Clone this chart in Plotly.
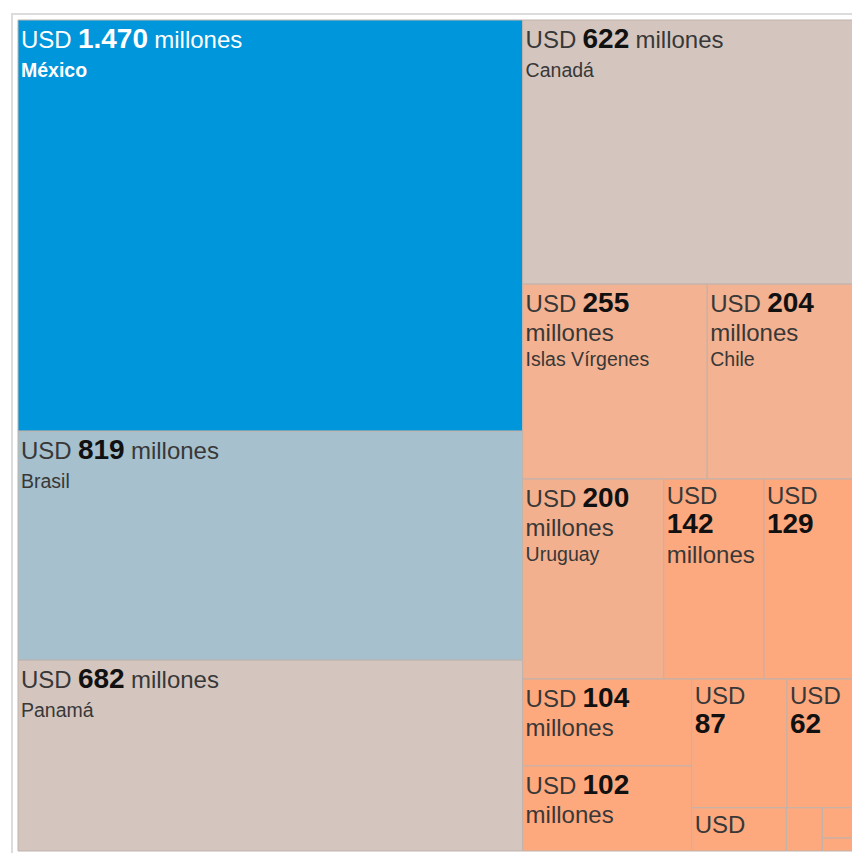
import plotly.graph_objects as go

# Destinos y montos (millones de USD)
paises = ["México", "Brasil", "Panamá", "Canadá", "Islas Vírgenes", "Chile", "Uruguay",
          "Destino 8", "Destino 9", "Destino 10", "Destino 11", "Destino 12", "Destino 13",
          "Destino 14", "Destino 15", "Destino 16", "Destino 17"]
montos = [1470, 819, 682, 622, 255, 204, 200, 142, 129, 104, 102, 87, 62, 29, 11, 7, 3]

# Cómo se reparte el rótulo de cada recuadro según el espacio disponible
formato = ["linea", "linea", "linea", "linea", "tres", "tres", "tres", "apilado",
           "corto", "dos", "dos", "corto", "corto", "usd", "", "", ""]

colores = ["#0096DB", "#A6C0CD", "#D4C6BF", "#D4C6BF", "#F3B291", "#F3B291", "#F3B08F",
           "#FCA97F", "#FEA87E", "#FEA87E", "#FEA87E", "#FEA87E", "#FEA87E",
           "#FEA87E", "#FEA87E", "#FEA87E", "#FEA87E"]


def rotulo(monto, pais, modo, claro):
    tono = "#ffffff" if claro else "#111111"
    num = f"{monto:,}".replace(",", ".")
    n = f'<span style="font-size:28px;fill:{tono}"><b>{num}</b></span>'
    usd = '<span style="font-size:24px">USD</span>'
    mil = '<span style="font-size:24px">millones</span>'
    nombre = f"<b>{pais}</b>" if claro else pais
    p = f'<span style="font-size:19.5px">{nombre}</span>'
    # tras la línea "millones" el nombre va más ceñido
    p_ceñido = f'<span style="font-size:19.5px;baseline-shift:5px">{nombre}</span>'
    if modo == "linea":
        return f"{usd} {n} {mil}<br>{p}"
    if modo == "tres":
        return f"{usd} {n}<br>{mil}<br>{p_ceñido}"
    if modo == "apilado":
        return f"{usd}<br>{n}<br>{mil}"
    if modo == "dos":
        return f"{usd} {n}<br>{mil}"
    if modo == "corto":
        return f"{usd}<br>{n}"
    if modo == "usd":
        return usd
    return ""


textos = [rotulo(m, p, f, i == 0) for i, (m, p, f) in enumerate(zip(montos, paises, formato))]
color_texto = ["#ffffff"] + ["#383838"] * (len(montos) - 1)

fig = go.Figure(go.Treemap(
    labels=paises,
    parents=[""] * len(paises),
    values=montos,
    text=textos,
    textinfo="text",
    textposition="top left",
    textfont=dict(family="Liberation Sans, Arial, sans-serif", size=22.5, color=color_texto),
    marker=dict(colors=colores, line=dict(color="#bfb3ac", width=1),
                pad=dict(t=0, l=0, r=0, b=0)),
    tiling=dict(packing="squarify", squarifyratio=1.618, pad=0),
    pathbar=dict(visible=False),
    sort=True,
    hoverinfo="skip",
))

# Marco gris claro alrededor del gráfico
fig.add_shape(type="rect", xref="paper", yref="paper",
              xsizemode="pixel", ysizemode="pixel", xanchor=0, yanchor=1,
              x0=-6, x1=900, y0=6, y1=-900,
              line=dict(color="#dcdcdc", width=2), layer="below")

fig.update_layout(
    width=855, height=853,
    margin=dict(l=18, r=0, t=20, b=2),
    paper_bgcolor="white",
    uniformtext=dict(minsize=22, mode="show"),
)

# El gráfico continúa un poco más allá del borde derecho de la ventana
fig.write_html(
    "out.html",
    post_script="document.documentElement.style.overflow='hidden';"
                "document.body.style.overflow='hidden';",
)
